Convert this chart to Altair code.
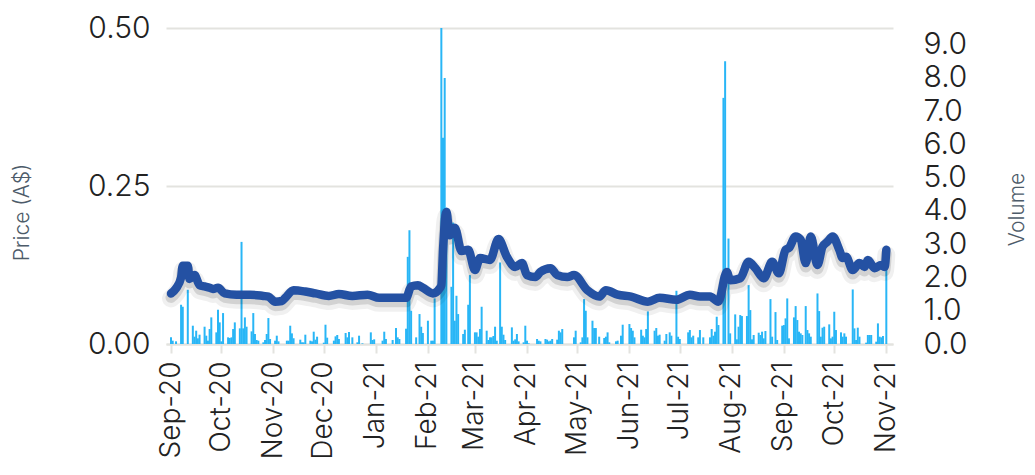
import altair as alt
import pandas as pd

FONT = "Inter"

price_dates = [
    "2020-09-01", "2020-09-04", "2020-09-07", "2020-09-08", "2020-09-11", "2020-09-12",
    "2020-09-15", "2020-09-18", "2020-09-21", "2020-09-24", "2020-09-26", "2020-09-29",
    "2020-10-03", "2020-10-10", "2020-10-18", "2020-10-26", "2020-10-29", "2020-11-02",
    "2020-11-06", "2020-11-08", "2020-11-13", "2020-11-20", "2020-11-26", "2020-12-04",
    "2020-12-10", "2020-12-18", "2020-12-27", "2021-01-03", "2021-01-19", "2021-01-22",
    "2021-01-26", "2021-01-29", "2021-02-04", "2021-02-08", "2021-02-09", "2021-02-10",
    "2021-02-12", "2021-02-14", "2021-02-17", "2021-02-21", "2021-02-25", "2021-03-01",
    "2021-03-04", "2021-03-10", "2021-03-15", "2021-03-20", "2021-03-25", "2021-03-29",
    "2021-04-01", "2021-04-06", "2021-04-09", "2021-04-15", "2021-04-19", "2021-04-25",
    "2021-04-29", "2021-05-07", "2021-05-14", "2021-05-18", "2021-05-25", "2021-06-02",
    "2021-06-12", "2021-06-19", "2021-06-29", "2021-07-07", "2021-07-13", "2021-07-19",
    "2021-07-24", "2021-07-29", "2021-07-31", "2021-08-06", "2021-08-11", "2021-08-15",
    "2021-08-20", "2021-08-25", "2021-08-29", "2021-09-02", "2021-09-04", "2021-09-08",
    "2021-09-11", "2021-09-14", "2021-09-17", "2021-09-21", "2021-09-24", "2021-09-27",
    "2021-09-30", "2021-10-04", "2021-10-06", "2021-10-08", "2021-10-12", "2021-10-16",
    "2021-10-19", "2021-10-21", "2021-10-25", "2021-10-29", "2021-10-31", "2021-11-01",
]
price_values = [
    0.080, 0.088, 0.105, 0.124, 0.124, 0.103,
    0.109, 0.093, 0.091, 0.089, 0.087, 0.089,
    0.080, 0.078, 0.078, 0.076, 0.075, 0.067,
    0.068, 0.073, 0.085, 0.083, 0.080, 0.076,
    0.079, 0.076, 0.078, 0.073, 0.073, 0.091,
    0.093, 0.089, 0.080, 0.088, 0.093, 0.149,
    0.209, 0.172, 0.184, 0.147, 0.149, 0.117,
    0.136, 0.133, 0.166, 0.138, 0.122, 0.128,
    0.109, 0.106, 0.114, 0.120, 0.109, 0.106,
    0.109, 0.085, 0.075, 0.085, 0.078, 0.075,
    0.067, 0.073, 0.070, 0.078, 0.075, 0.075,
    0.067, 0.114, 0.101, 0.104, 0.130, 0.120,
    0.104, 0.130, 0.112, 0.149, 0.152, 0.170,
    0.165, 0.128, 0.170, 0.125, 0.154, 0.162,
    0.170, 0.149, 0.136, 0.138, 0.117, 0.128,
    0.122, 0.133, 0.120, 0.125, 0.122, 0.149,
]

vol_dates = [
    "2020-09-01", "2020-09-02", "2020-09-04", "2020-09-07", "2020-09-08", "2020-09-11",
    "2020-09-14", "2020-09-15", "2020-09-16", "2020-09-17", "2020-09-18", "2020-09-21",
    "2020-09-22", "2020-09-23", "2020-09-24", "2020-09-25", "2020-09-28", "2020-09-29",
    "2020-09-30", "2020-10-01", "2020-10-02", "2020-10-05", "2020-10-06", "2020-10-07",
    "2020-10-08", "2020-10-09", "2020-10-12", "2020-10-13", "2020-10-14", "2020-10-15",
    "2020-10-16", "2020-10-19", "2020-10-20", "2020-10-21", "2020-10-22", "2020-10-23",
    "2020-10-26", "2020-10-27", "2020-10-28", "2020-10-29", "2020-10-30", "2020-11-02",
    "2020-11-03", "2020-11-04", "2020-11-09", "2020-11-10", "2020-11-11", "2020-11-12",
    "2020-11-13", "2020-11-17", "2020-11-18", "2020-11-19", "2020-11-20", "2020-11-23",
    "2020-11-24", "2020-11-25", "2020-11-26", "2020-11-27", "2020-12-01", "2020-12-02",
    "2020-12-03", "2020-12-07", "2020-12-08", "2020-12-09", "2020-12-10", "2020-12-14",
    "2020-12-15", "2020-12-16", "2020-12-18", "2020-12-21", "2020-12-22", "2020-12-24",
    "2020-12-29", "2020-12-30", "2020-12-31", "2021-01-05", "2021-01-06", "2021-01-07",
    "2021-01-11", "2021-01-13", "2021-01-14", "2021-01-15", "2021-01-19", "2021-01-20",
    "2021-01-21", "2021-01-22", "2021-01-25", "2021-01-27", "2021-01-28", "2021-01-29",
    "2021-02-01", "2021-02-03", "2021-02-04", "2021-02-05", "2021-02-09", "2021-02-10",
    "2021-02-11", "2021-02-12", "2021-02-15", "2021-02-16", "2021-02-17", "2021-02-18",
    "2021-02-19", "2021-02-22", "2021-02-23", "2021-02-25", "2021-02-26", "2021-03-01",
    "2021-03-02", "2021-03-03", "2021-03-04", "2021-03-05", "2021-03-08", "2021-03-09",
    "2021-03-10", "2021-03-11", "2021-03-12", "2021-03-13", "2021-03-14", "2021-03-16",
    "2021-03-17", "2021-03-18", "2021-03-19", "2021-03-23", "2021-03-24", "2021-03-25",
    "2021-03-26", "2021-03-27", "2021-03-30", "2021-03-31", "2021-04-01", "2021-04-02",
    "2021-04-07", "2021-04-08", "2021-04-09", "2021-04-12", "2021-04-13", "2021-04-14",
    "2021-04-15", "2021-04-16", "2021-04-19", "2021-04-20", "2021-04-21", "2021-04-22",
    "2021-04-29", "2021-04-30", "2021-05-03", "2021-05-04", "2021-05-05", "2021-05-06",
    "2021-05-07", "2021-05-10", "2021-05-11", "2021-05-12", "2021-05-14", "2021-05-17",
    "2021-05-18", "2021-05-19", "2021-05-20", "2021-05-24", "2021-05-25", "2021-05-27",
    "2021-05-28", "2021-06-01", "2021-06-02", "2021-06-03", "2021-06-04", "2021-06-08",
    "2021-06-09", "2021-06-10", "2021-06-11", "2021-06-12", "2021-06-16", "2021-06-17",
    "2021-06-18", "2021-06-19", "2021-06-22", "2021-06-23", "2021-06-25", "2021-06-26",
    "2021-06-29", "2021-06-30", "2021-07-01", "2021-07-06", "2021-07-07", "2021-07-08",
    "2021-07-09", "2021-07-12", "2021-07-13", "2021-07-15", "2021-07-19", "2021-07-20",
    "2021-07-21", "2021-07-22", "2021-07-23", "2021-07-24", "2021-07-27", "2021-07-28",
    "2021-07-30", "2021-07-31", "2021-08-03", "2021-08-04", "2021-08-05", "2021-08-06",
    "2021-08-07", "2021-08-10", "2021-08-11", "2021-08-12", "2021-08-13", "2021-08-14",
    "2021-08-17", "2021-08-18", "2021-08-19", "2021-08-20", "2021-08-21", "2021-08-24",
    "2021-08-25", "2021-08-27", "2021-08-28", "2021-08-31", "2021-09-01", "2021-09-02",
    "2021-09-03", "2021-09-04", "2021-09-07", "2021-09-08", "2021-09-09", "2021-09-10",
    "2021-09-11", "2021-09-12", "2021-09-14", "2021-09-15", "2021-09-16", "2021-09-17",
    "2021-09-21", "2021-09-22", "2021-09-23", "2021-09-24", "2021-09-25", "2021-09-28",
    "2021-09-29", "2021-09-30", "2021-10-01", "2021-10-02", "2021-10-05", "2021-10-06",
    "2021-10-07", "2021-10-08", "2021-10-12", "2021-10-13", "2021-10-14", "2021-10-15",
    "2021-10-16", "2021-10-20", "2021-10-21", "2021-10-22", "2021-10-23", "2021-10-26",
    "2021-10-27", "2021-10-28", "2021-10-29", "2021-10-30", "2021-11-01",
]
vol_values = [
    0.20, 0.10, 0.08, 1.18, 1.12, 1.63,
    0.55, 0.22, 0.40, 0.17, 0.28, 0.52,
    0.25, 0.10, 0.45, 0.80, 0.35, 1.03,
    0.65, 0.08, 0.93, 0.20, 0.18, 0.20,
    0.45, 0.65, 0.47, 3.07, 0.47, 0.80,
    0.52, 0.38, 0.93, 0.30, 0.12, 0.10,
    0.05, 0.12, 0.30, 0.78, 0.15, 0.10,
    0.25, 0.08, 0.10, 0.10, 0.55, 0.32,
    0.17, 0.13, 0.05, 0.05, 0.28, 0.10,
    0.08, 0.37, 0.13, 0.22, 0.04, 0.58,
    0.19, 0.10, 0.23, 0.27, 0.15, 0.33,
    0.20, 0.36, 0.20, 0.05, 0.25, 0.02,
    0.35, 0.12, 0.14, 0.10, 0.37, 0.15,
    0.12, 0.48, 0.20, 0.15, 0.46, 2.62,
    3.42, 1.00, 0.20, 0.90, 0.52, 0.33,
    0.70, 0.10, 0.10, 1.37, 9.50, 6.20,
    8.00, 4.10, 1.72, 3.65, 0.70, 1.45,
    0.90, 0.30, 0.43, 1.18, 2.07, 0.35,
    0.35, 0.22, 0.45, 1.12, 0.40, 0.12,
    0.20, 0.20, 0.24, 0.52, 0.10, 2.45,
    0.52, 0.28, 0.12, 0.50, 0.10, 0.14,
    0.30, 0.08, 0.05, 0.55, 0.10, 0.02,
    0.15, 0.10, 0.08, 0.15, 0.13, 0.08,
    0.10, 0.15, 0.13, 0.40, 0.35, 0.45,
    0.20, 0.40, 0.05, 0.20, 1.35, 1.00,
    0.20, 0.70, 0.48, 0.48, 0.22, 0.18,
    0.22, 0.35, 0.05, 0.08, 0.10, 0.25,
    0.58, 0.60, 0.48, 0.40, 0.20, 0.43,
    0.25, 0.20, 0.45, 0.98, 0.40, 0.48,
    0.25, 0.28, 0.10, 0.30, 0.35, 0.25,
    1.60, 0.22, 0.15, 0.35, 0.42, 0.20,
    0.25, 0.20, 0.42, 0.20, 0.20, 0.45,
    0.25, 0.37, 0.82, 0.57, 7.40, 8.50,
    3.17, 0.32, 0.89, 0.14, 0.52, 0.87,
    0.84, 0.84, 1.77, 1.02, 0.14, 0.27,
    0.34, 0.27, 0.37, 0.17, 0.39, 1.35,
    0.22, 0.96, 0.12, 0.55, 0.57, 0.77,
    1.37, 0.17, 0.80, 1.14, 0.72, 0.37,
    0.32, 0.27, 1.14, 0.42, 0.32, 0.22,
    1.52, 0.99, 0.22, 0.49, 0.52, 0.59,
    0.17, 0.22, 0.97, 0.42, 0.35, 0.22,
    0.32, 0.22, 1.64, 0.47, 0.12, 0.49,
    0.22, 0.04, 0.27, 0.27, 0.27, 0.07,
    0.62, 0.22, 0.20, 0.24, 2.82,
]

price_ticks = [0.0, 0.25, 0.5]
volume_ticks = [0, 1, 2, 3, 4, 5, 6, 7, 8, 9]

price_df = pd.DataFrame({"date": price_dates, "price": price_values})
vol_df = pd.DataFrame({"date": vol_dates, "volume": vol_values})

GRID = "#e3e3df"

x_scale = alt.Scale(
    type="utc",
    domain=[alt.DateTime(year=2020, month=9, date=1, utc=True),
            alt.DateTime(year=2021, month=11, date=2, utc=True)],
)
x_axis = alt.Axis(
    format="%b-%y",
    tickCount=alt.TimeIntervalStep(interval="month", step=1),
    labelAngle=270, labelAlign="right", labelBaseline="middle",
    labelFont=FONT, labelFontSize=28, labelFontWeight=300, labelColor="#222222",
    labelPadding=8, labelOverlap=False, labelFlush=False,
    domainColor=GRID, domainWidth=2, tickColor=GRID, tickWidth=2, tickSize=9,
    grid=False, title=None,
)
x_enc = alt.X("date:T", scale=x_scale, axis=x_axis)

bars = alt.Chart(vol_df).mark_bar(size=2, color="#29B6F6").encode(
    x=x_enc,
    y=alt.Y("volume:Q", scale=alt.Scale(domain=[0, 9.5], nice=False, zero=True),
            axis=alt.Axis(orient="right", values=volume_ticks, format=".1f",
                          labelFont=FONT, labelFontSize=30, labelFontWeight=300,
                          labelColor="#222222",
                          labelPadding=30, domain=False, ticks=False, grid=False,
                          title="Volume", titleFont=FONT, titleFontSize=21,
                          titleFontWeight=300, titleColor="#4d5b69",
                          titleAngle=270, titleAlign="center", titleBaseline="middle",
                          titleX=124, titleY=181)),
)

price_y = alt.Y(
    "price:Q", scale=alt.Scale(domain=[0, 0.5], nice=False),
    axis=alt.Axis(orient="left", values=price_ticks, format=".2f",
                  labelFont=FONT, labelFontSize=30, labelFontWeight=300,
                  labelColor="#222222",
                  labelPadding=16, domain=False, ticks=False,
                  grid=True, gridColor=GRID, gridWidth=2,
                  title="Price (A$)", titleFont=FONT, titleFontSize=21,
                  titleFontWeight=300, titleColor="#4d5b69",
                  titleAngle=270, titleAlign="center", titleBaseline="middle",
                  titleX=-144, titleY=184),
)

shadow_wide = alt.Chart(price_df).mark_line(
    color="#000000", opacity=0.06, strokeWidth=18, yOffset=5,
    interpolate="monotone", strokeCap="round", strokeJoin="round",
).encode(x=x_enc, y=price_y)
shadow = alt.Chart(price_df).mark_line(
    color="#000000", opacity=0.12, strokeWidth=11, yOffset=4,
    interpolate="monotone", strokeCap="round", strokeJoin="round",
).encode(x=x_enc, y=price_y)
line = alt.Chart(price_df).mark_line(
    color="#2451A3", strokeWidth=8.5, interpolate="monotone",
    strokeCap="round", strokeJoin="round",
).encode(x=x_enc, y=price_y)

price_layer = alt.layer(shadow_wide, shadow, line)

chart = alt.layer(bars, price_layer).resolve_scale(y="independent").properties(
    width=727, height=316,
    padding={"left": 158, "top": 20, "right": 134, "bottom": 118},
    autosize=alt.AutoSizeParams(type="none"),
    background="white",
).configure_view(stroke=None)

chart.save("out.html", embed_options={"renderer": "svg", "actions": False})
